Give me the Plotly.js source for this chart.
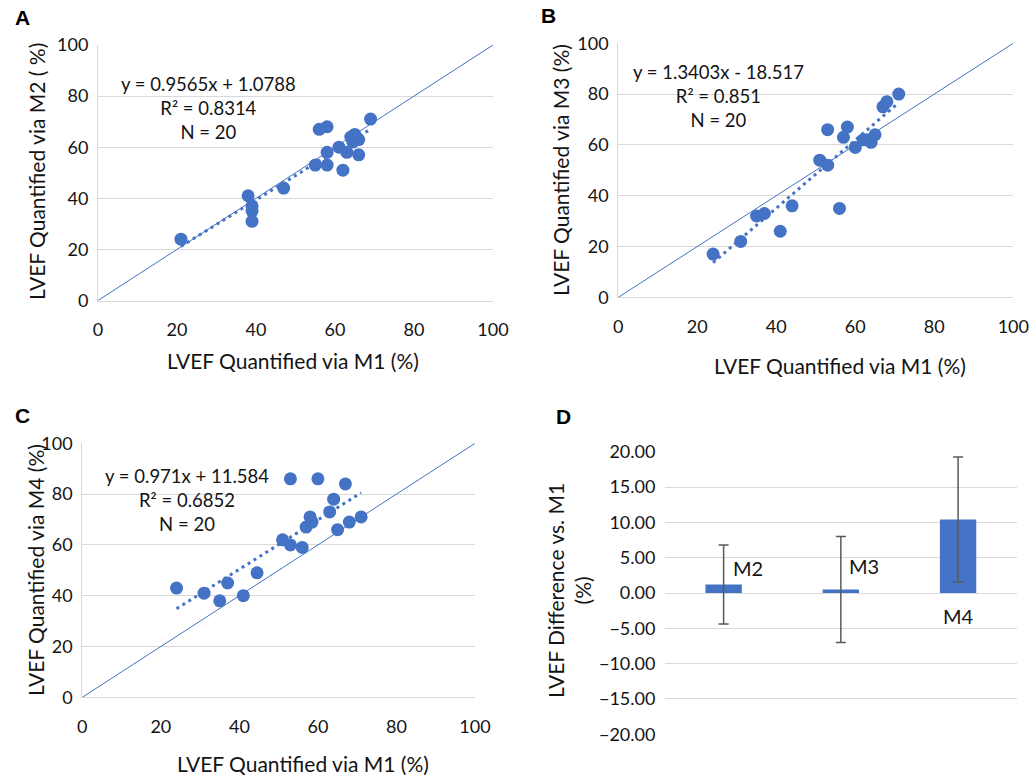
<!DOCTYPE html>
<html>
<head>
<meta charset="utf-8">
<script src="https://cdn.plot.ly/plotly-3.0.1.min.js"></script>
<style>html,body{margin:0;padding:0;background:#fff;}#chart{width:1030px;height:775px;}</style>
</head>
<body>
<div id="chart"></div>
<script>
// ---- Data ----
const a_m1 = [21, 38, 39, 39, 39, 47, 55, 58, 62, 56, 58, 58, 61, 63, 66, 64, 65, 66, 69, 64.5];
const a_m2 = [24, 41, 37, 35, 31, 44, 53, 53, 51, 67, 68, 58, 60, 58, 57, 64, 65, 63, 71, 62];
const b_m1 = [24, 31, 35, 37, 41, 44, 56, 51, 53, 53, 58, 57, 60, 63, 64, 65, 67, 68, 71, 62];
const b_m3 = [17, 22, 32, 33, 26, 36, 35, 54, 52, 66, 67, 63, 59, 62, 61, 64, 75, 77, 80, 62];
const c_m1 = [24, 31, 35, 37, 41, 44.5, 51, 53, 56, 57, 58, 58.5, 53, 60, 67, 64, 63, 65, 68, 71];
const c_m4 = [43, 41, 38, 45, 40, 49, 62, 60, 59, 67, 71, 69, 86, 86, 84, 78, 73, 66, 69, 71];
const fitA = {slope: 0.9565, intercept: 1.0788, r2: '0.8314', eq: 'y = 0.9565x + 1.0788', n: 20};
const fitB = {slope: 1.3403, intercept: -18.517, r2: '0.851', eq: 'y = 1.3403x - 18.517', n: 20};
const fitC = {slope: 0.971, intercept: 11.584, r2: '0.6852', eq: 'y = 0.971x + 11.584', n: 20};
const d_methods = ['M2', 'M3', 'M4'];
const d_mean = [1.2, 0.5, 10.4];
const d_sd = [5.6, 7.5, 8.85];
const axisTicks = [0, 20, 40, 60, 80, 100];
const diffTicks = [-20, -15, -10, -5, 0, 5, 10, 15, 20];
const xTitle = 'LVEF Quantified via M1 (%)';
const yTitles = ['LVEF Quantified via M2 ( %)', 'LVEF Quantified via M3 (%)', 'LVEF Quantified via M4 (%)'];
const dTitle = 'LVEF Difference vs. M1<br>(%)';

// ---- Style ----
const BLUE = '#4472C4';
const GRID = '#d9d9d9';
const FONT = 'Lato, "Open Sans", sans-serif';
const TXT = '#141414';

function fitLine(xs, fit, xa, ya) {
  const lo = Math.min(...xs), hi = Math.max(...xs);
  return {x: [lo, hi], y: [fit.slope * lo + fit.intercept, fit.slope * hi + fit.intercept],
    xaxis: xa, yaxis: ya, mode: 'lines', line: {color: BLUE, width: 3, dash: '3px,4px'}, hoverinfo: 'skip'};
}
function diag(xa, ya) {
  return {x: [axisTicks[0], axisTicks[axisTicks.length - 1]], y: [axisTicks[0], axisTicks[axisTicks.length - 1]],
    xaxis: xa, yaxis: ya, mode: 'lines', line: {color: BLUE, width: 1}, hoverinfo: 'skip'};
}
function pts(xs, ys, xa, ya) {
  return {x: xs, y: ys, xaxis: xa, yaxis: ya, mode: 'markers', type: 'scatter',
    marker: {color: BLUE, size: 13, line: {width: 0}}};
}

const traces = [
  diag('x', 'y'), fitLine(a_m1, fitA, 'x', 'y'), pts(a_m1, a_m2, 'x', 'y'),
  diag('x2', 'y2'), fitLine(b_m1, fitB, 'x2', 'y2'), pts(b_m1, b_m3, 'x2', 'y2'),
  diag('x3', 'y3'), fitLine(c_m1, fitC, 'x3', 'y3'), pts(c_m1, c_m4, 'x3', 'y3'),
  {type: 'bar', x: d_methods, y: d_mean, xaxis: 'x4', yaxis: 'y4', width: 0.31,
   marker: {color: BLUE},
   error_y: {type: 'data', array: d_sd, visible: true, color: '#595959', thickness: 1.5, width: 5}}
];

const W = 1030, H = 775;
const px = (a, b) => [a / W, b / W];
const py = (top, bottom) => [1 - bottom / H, 1 - top / H];

const tickFont = {family: FONT, size: 18, color: TXT};
const titleFont = {family: FONT, size: 21, color: TXT};

function sx(domain, anchor) {
  return {domain: domain, anchor: anchor, range: [0, 100], tickvals: axisTicks, showgrid: false, zeroline: false,
    showline: true, linecolor: GRID, linewidth: 1, ticks: 'outside', ticklen: 13, tickcolor: 'rgba(0,0,0,0)',
    tickfont: tickFont, fixedrange: true};
}
function sy(domain, anchor) {
  return {domain: domain, anchor: anchor, range: [0, 100], tickvals: axisTicks, showgrid: true, gridcolor: GRID, zeroline: false,
    showline: true, linecolor: GRID, linewidth: 1, ticks: 'outside', ticklen: 5, tickcolor: 'rgba(0,0,0,0)',
    tickfont: tickFont, fixedrange: true};
}

function eqAnn(fit, xc, yc) {
  return {xref: 'paper', yref: 'paper', x: xc / W, y: 1 - yc / H, xanchor: 'center', yanchor: 'middle',
    align: 'center', showarrow: false, font: {family: FONT, size: 18.5, color: TXT},
    text: fit.eq + '<br>R² = ' + fit.r2 + '<br>N = ' + fit.n};
}
function panelLab(t, xc, yc) {
  return {xref: 'paper', yref: 'paper', x: xc / W, y: 1 - yc / H, xanchor: 'center', yanchor: 'middle',
    showarrow: false, text: '<b>' + t + '</b>', font: {family: 'Liberation Sans, Arial, sans-serif', size: 21, color: '#000'}};
}
function titleAnn(t, xc, yc, angle) {
  return {xref: 'paper', yref: 'paper', x: xc / W, y: 1 - yc / H, xanchor: 'center', yanchor: 'middle',
    align: 'center', showarrow: false, textangle: angle, text: t, font: titleFont};
}

const annotations = [
  eqAnn(fitA, 208, 108), eqAnn(fitB, 718, 96), eqAnn(fitC, 187, 500),
  panelLab('A', 22, 18), panelLab('B', 548, 15), panelLab('C', 22, 415), panelLab('D', 563, 416),
  titleAnn(xTitle, 293, 360, 0), titleAnn(xTitle, 840, 365, 0), titleAnn(xTitle, 303, 763, 0),
  titleAnn(yTitles[0], 36, 172, -90), titleAnn(yTitles[1], 560, 170, -90), titleAnn(yTitles[2], 35, 570, -90),
  titleAnn(dTitle, 569, 591, -90),
  {xref: 'x4', yref: 'y4', x: d_methods[0], y: d_mean[0], xshift: 24, yshift: 17, showarrow: false,
   text: d_methods[0], font: {family: FONT, size: 20, color: TXT}},
  {xref: 'x4', yref: 'y4', x: d_methods[1], y: d_mean[1], xshift: 23, yshift: 23, showarrow: false,
   text: d_methods[1], font: {family: FONT, size: 20, color: TXT}},
  {xref: 'x4', yref: 'y4', x: d_methods[2], y: 0, xshift: 0, yshift: -23, showarrow: false,
   text: d_methods[2], font: {family: FONT, size: 20, color: TXT}}
];

const layout = {
  width: W, height: H, margin: {l: 0, r: 0, t: 0, b: 0}, showlegend: false,
  paper_bgcolor: '#fff', plot_bgcolor: '#fff',
  xaxis: sx(px(98, 493), 'y'),
  yaxis: sy(py(45, 300.5), 'x'),
  xaxis2: sx(px(618.3, 1013.3), 'y2'),
  yaxis2: sy(py(43.3, 297.3), 'x2'),
  xaxis3: sx(px(82.3, 475), 'y3'),
  yaxis3: sy(py(443.3, 697.3), 'x3'),
  xaxis4: {domain: px(665, 1016.7), anchor: 'y4', range: [-0.5, 2.5], showticklabels: false, showgrid: false, zeroline: false,
    showline: false, ticks: '', fixedrange: true},
  yaxis4: {domain: py(451.7, 734.3), anchor: 'x4', range: [-20, 20], tickvals: diffTicks, tickformat: '.2f',
    showgrid: true, gridcolor: GRID, zeroline: false, showline: false, ticks: 'outside', ticklen: 5,
    tickcolor: 'rgba(0,0,0,0)', tickfont: tickFont, fixedrange: true},
  annotations: annotations
};

Plotly.newPlot('chart', traces, layout, {displayModeBar: false, staticPlot: true});
</script>
</body>
</html>
